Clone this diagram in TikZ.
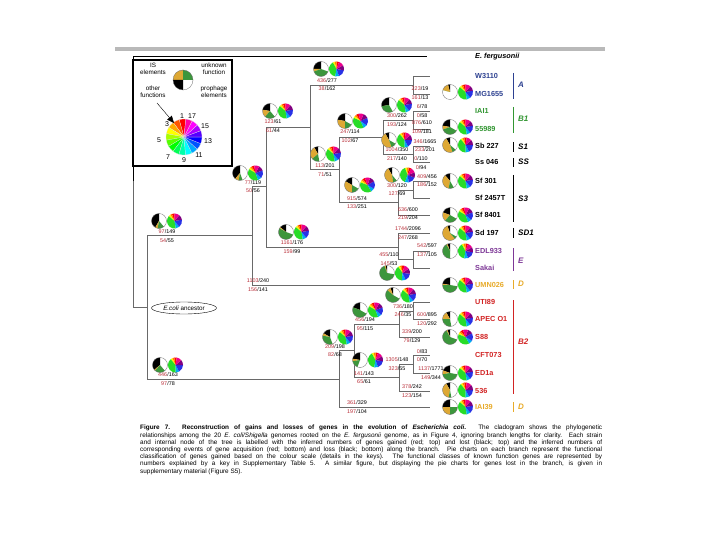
\documentclass[tikz,border=0pt]{standalone}
\usepackage{fontspec}
\setmainfont{Liberation Sans}
\usetikzlibrary{shapes.geometric,arrows.meta}
\definecolor{nred}{RGB}{185,45,55}
\definecolor{treegray}{RGB}{105,105,105}
\definecolor{blueA}{RGB}{45,65,145}
\definecolor{greenB}{RGB}{50,150,50}
\definecolor{purpleE}{RGB}{125,55,150}
\definecolor{goldD}{RGB}{232,170,40}
\definecolor{redB}{RGB}{210,35,35}
\definecolor{isgold}{RGB}{222,168,52}
\definecolor{unkgreen}{RGB}{60,150,60}
\definecolor{cgreen}{RGB}{40,220,40}
\definecolor{cblue}{RGB}{40,50,230}
\newcommand\pr{7.5}
\newcommand\lpie[5]{%
 \begin{scope}[shift={(#1,#2)},yscale=-1]
  \fill[white] (0,0) circle[radius=\pr];
  \pgfmathsetmacro\aA{90+#3}
  \pgfmathsetmacro\aB{\aA+#4}
  \pgfmathsetmacro\aC{\aB+#5}
  \fill[black] (0,0) -- (90:\pr) arc[start angle=90,end angle=\aA,radius=\pr] -- cycle;
  \fill[isgold] (0,0) -- (\aA:\pr) arc[start angle=\aA,end angle=\aB,radius=\pr] -- cycle;
  \fill[unkgreen] (0,0) -- (\aB:\pr) arc[start angle=\aB,end angle=\aC,radius=\pr] -- cycle;
  \draw[black!60,line width=0.3pt] (0,0) circle[radius=\pr];
 \end{scope}}
\newcommand\cpie[3]{%
 \begin{scope}[shift={(#1,#2)},yscale=-1,rotate=#3]
  \foreach \s/\e/\c in {90/110/red,110/125/orange,125/140/yellow,140/280/cgreen,280/310/cyan,310/370/cblue,370/410/violet,410/450/magenta}
   \fill[\c] (0,0) -- (\s:\pr) arc[start angle=\s,end angle=\e,radius=\pr] -- cycle;
 \end{scope}}
\newcommand\pp[6]{\lpie{#1}{#2}{#3}{#4}{#5}\cpie{{#1+15.5}}{#2}{#6}}
\newcommand\lab[7]{%
 \node[nl] (#1t) at (#2,{#3-4}) {\textcolor{nred}{#4}/#5};
 \node[nl] (#1b) at (#2,{#3+4.3}) {\textcolor{nred}{#6}/#7};}
\tikzset{
 nl/.style={font=\fontsize{5.4}{6}\selectfont,inner sep=0pt},
 leaf/.style={anchor=west,inner sep=0pt,font=\fontsize{7.3}{8}\selectfont\bfseries},
 grp/.style={anchor=west,inner sep=0pt,font=\fontsize{8}{9}\selectfont\bfseries\itshape},
 br/.style={treegray,line width=0.75pt},
 bar/.style={line width=0.8pt},
 keyt/.style={font=\fontsize{6.3}{7}\selectfont,inner sep=0pt,align=center},
 whn/.style={font=\fontsize{7}{8}\selectfont,inner sep=0pt}
}
\begin{document}
\begin{tikzpicture}[x=1pt,y=-1pt]
\useasboundingbox (0,0) rectangle (720,540);
\fill[white] (0,0) rectangle (720,540);
% top rule
\fill[gray!55] (115,47) rectangle (605,51);
% tree coordinates
\coordinate (r0) at (133,181);
\coordinate (ef) at (427,56);
\coordinate (ec) at (147,307);
\coordinate (nU) at (252,235);
\coordinate (nL) at (339,379);
\coordinate (nV) at (266,186);
\coordinate (nW) at (310,127);
\coordinate (nR) at (398,247);
\coordinate (nA) at (413,85);
\coordinate (nX) at (339,169);
\coordinate (nY) at (383,137);
\coordinate (nS3) at (398,202);
\coordinate (nB1) at (413,120);
\coordinate (nZ) at (413,154);
\coordinate (nS3a) at (413,190);
\coordinate (nE) at (413,259);
\coordinate (nB2) at (354,350);
\coordinate (nB2a) at (399,324);
\coordinate (nB2b) at (399,377);
\coordinate (nB2a1) at (413,311);
\coordinate (nB2b1) at (413,364);
\coordinate (cW3110) at (430,76);
\coordinate (cMG) at (430,94);
\coordinate (cIAI1) at (430,111);
\coordinate (c55989) at (430,129);
\coordinate (cSb) at (430,146);
\coordinate (cSs) at (430,162);
\coordinate (cSf301) at (430,181);
\coordinate (cSf2457) at (430,198);
\coordinate (cSf8401) at (430,215);
\coordinate (cSd) at (430,233);
\coordinate (cEDL) at (430,251);
\coordinate (cSakai) at (430,268);
\coordinate (cUMN) at (430,285);
\coordinate (cUTI) at (430,302);
\coordinate (cAPEC) at (430,319);
\coordinate (cS88) at (430,337);
\coordinate (cCFT) at (430,355);
\coordinate (cED1a) at (430,373);
\coordinate (c536) at (430,391);
\coordinate (cIAI39) at (430,407);
% branches
\draw[black,line width=0.8pt] (r0) |- (ef);
\draw[br] (r0) |- (ec);
\draw[br] (ec) |- (nU); \draw[br] (ec) |- (nL);
\draw[br] (nU) |- (nV); \draw[br] (nU) |- (cUMN);
\draw[br] (nV) |- (nW); \draw[br] (nV) |- (nR);
\draw[br] (nW) |- (nA); \draw[br] (nW) |- (nX);
\draw[br] (nA) |- (cW3110); \draw[br] (nA) |- (cMG);
\draw[br] (nX) |- (nY); \draw[br] (nX) |- (nS3);
\draw[br] (nY) |- (nB1); \draw[br] (nY) |- (nZ);
\draw[br] (nB1) |- (cIAI1); \draw[br] (nB1) |- (c55989);
\draw[br] (nZ) |- (cSb); \draw[br] (nZ) |- (cSs);
\draw[br] (nS3) |- (nS3a); \draw[br] (nS3) |- (cSf8401);
\draw[br] (nS3a) |- (cSf301); \draw[br] (nS3a) |- (cSf2457);
\draw[br] (nR) |- (cSd); \draw[br] (nR) |- (nE);
\draw[br] (nE) |- (cEDL); \draw[br] (nE) |- (cSakai);
\draw[br] (nL) |- (nB2); \draw[br] (nL) |- (cIAI39);
\draw[br] (nB2) |- (nB2a); \draw[br] (nB2) |- (nB2b);
\draw[br] (nB2a) |- (nB2a1); \draw[br] (nB2a) |- (cS88);
\draw[br] (nB2a1) |- (cUTI); \draw[br] (nB2a1) |- (cAPEC);
\draw[br] (nB2b) |- (nB2b1); \draw[br] (nB2b) |- (c536);
\draw[br] (nB2b1) |- (cCFT); \draw[br] (nB2b1) |- (cED1a);
% key box
\draw[line width=1.1pt,fill=white] (133,60) rectangle (232,166);
\begin{scope}[shift={(183,80)},yscale=-1]
 \fill[isgold] (0,0) -- (90:10) arc[start angle=90,end angle=180,radius=10] -- cycle;
 \fill[black] (0,0) -- (180:10) arc[start angle=180,end angle=270,radius=10] -- cycle;
 \fill[unkgreen] (0,0) -- (0:10) arc[start angle=0,end angle=90,radius=10] -- cycle;
 \draw[black!60,line width=0.3pt] (0,0) circle[radius=10];
\end{scope}
\node[keyt] (kIS) at (153,69) {IS\\elements};
\node[keyt] (kUnk) at (214,69) {unknown\\function};
\node[keyt] (kOth) at (153,92) {other\\functions};
\node[keyt] (kPro) at (214,92) {prophage\\elements};
\begin{scope}[shift={(184,137)},yscale=-1]
 \foreach \k in {1,...,17}{
  \pgfmathsetmacro\st{84.4+(\k-1)*21.176}
  \pgfmathsetmacro\en{\st+21.176}
  \pgfmathsetmacro\hh{(\k-1)*20/360}
  \definecolor{cw}{hsb}{\hh,1,1}
  \fill[cw,draw=white!80!gray,line width=0.2pt] (0,0) -- (\st:18) arc[start angle=\st,end angle=\en,radius=18] -- cycle;
 }
\end{scope}
\coordinate (kArS) at (157,103);
\coordinate (kArE) at (174,123);
\draw[line width=0.4pt,-{Triangle[length=7pt,width=6pt]}] (kArS) -- (kArE);
\node[whn] (w1) at (182,116) {1};
\node[whn] (w17) at (192,116) {17};
\node[whn] (w3) at (167,124) {3};
\node[whn] (w15) at (205,126) {15};
\node[whn] (w5) at (159,140) {5};
\node[whn] (w13) at (208,141) {13};
\node[whn] (w7) at (168,157) {7};
\node[whn] (w9) at (184,160) {9};
\node[whn] (w11) at (199,155) {11};
% ancestor ellipse
\node[ellipse,draw,line width=0.4pt,minimum width=65pt,minimum height=12pt,inner sep=0pt,font=\fontsize{6.3}{7}\selectfont] (anc) at (184,308) {\textit{E.coli} ancestor};
% branch labels
\lab{lEcU}{167}{236}{97}{149}{54}{55}
\lab{lEcL}{168}{379}{446}{163}{97}{78}
\lab{lUV}{253}{186.5}{77}{119}{50}{56}
\lab{lVW}{273}{126}{123}{61}{61}{44}
\lab{lWA}{327}{84.5}{436}{277}{38}{162}
\lab{lWX}{325}{170}{113}{201}{71}{51}
\lab{lXY}{350}{136}{247}{114}{102}{67}
\lab{lYB}{397}{120}{300}{262}{193}{124}
\lab{lYZ}{397}{154}{1004}{350}{217}{140}
\lab{lXS}{357}{202.5}{915}{574}{133}{251}
\lab{lSS}{397}{189.5}{300}{120}{127}{69}
\lab{lVR}{292}{247}{1161}{176}{159}{99}
\lab{lRE}{389}{259}{455}{110}{145}{53}
\lab{lUU}{258}{285}{1103}{240}{156}{141}
\lab{lLB}{335}{350.5}{209}{198}{82}{68}
\lab{lBa}{365}{324}{456}{194}{95}{115}
\lab{lBaa}{403}{310.5}{736}{180}{246}{35}
\lab{lBb}{364}{377.5}{141}{143}{65}{61}
\lab{lBbb}{397}{364}{1305}{148}{323}{55}
\lab{lMG}{420}{93}{223}{19}{161}{13}
\lab{lIAIa}{422}{111}{6}{78}{0}{58}
\lab{lFive}{422}{127}{876}{610}{109}{181}
\lab{lSb}{425}{145.5}{346}{1665}{233}{201}
\lab{lSs}{421}{163}{0}{110}{0}{94}
\lab{lSfa}{427}{180.5}{409}{456}{186}{152}
\lab{lSfc}{408}{213.5}{636}{600}{219}{204}
\lab{lSd}{408}{233}{1744}{2096}{247}{268}
\lab{lEDL}{427}{250}{542}{597}{137}{105}
\lab{lAPEC}{427}{319}{600}{895}{120}{292}
\lab{lSe}{412}{336}{339}{200}{79}{129}
\lab{lCFT}{422}{355.5}{0}{83}{0}{70}
\lab{lEDa}{431}{373}{1137}{1771}{149}{344}
\lab{lFiv}{412}{391}{378}{242}{123}{154}
\lab{lIAIb}{357}{407}{361}{329}{197}{104}
% pies on branches
\pp{159}{221}{150}{20}{50}{0}
\pp{160}{365}{130}{10}{80}{10}
\pp{240}{173}{140}{30}{30}{-10}
\pp{270}{111}{80}{60}{80}{0}
\pp{321}{69}{90}{20}{140}{20}
\pp{318}{154}{30}{100}{60}{0}
\pp{345}{121}{80}{100}{60}{-15}
\pp{389}{105}{100}{0}{110}{0}
\pp{389}{140}{30}{170}{40}{10}
\pp{352}{185}{60}{120}{60}{-20}
\pp{392}{175}{30}{160}{30}{30}
\pp{286}{232}{50}{10}{190}{0}
\pp{387}{273}{10}{10}{240}{15}
\pp{330}{337}{60}{20}{120}{0}
\pp{360}{310}{70}{0}{170}{-10}
\pp{393}{295}{20}{30}{190}{0}
\pp{360}{360}{80}{20}{60}{20}
\pp{450}{92}{15}{60}{0}{0}
\pp{450}{127}{80}{30}{130}{0}
\pp{450}{145}{30}{170}{30}{10}
\pp{450}{181}{40}{130}{40}{0}
\pp{450}{215}{70}{70}{100}{-10}
\pp{450}{233}{20}{200}{20}{0}
\pp{450}{251}{20}{10}{150}{20}
\pp{450}{285}{80}{10}{170}{0}
\pp{450}{319}{30}{60}{100}{0}
\pp{450}{337}{20}{10}{220}{-20}
\pp{450}{373}{70}{30}{160}{0}
\pp{450}{390}{30}{140}{20}{10}
\pp{450}{407}{90}{90}{90}{0}
% leaf names
\node[leaf,font=\fontsize{7.3}{8}\selectfont\bfseries\itshape] (tEF) at (475,57) {E. fergusonii};
\node[leaf,blueA] (tW3110) at (475,76) {W3110};
\node[leaf,blueA] (tMG) at (475,94) {MG1655};
\node[leaf,greenB] (tIAI1) at (475,111) {IAI1};
\node[leaf,greenB] (t55989) at (475,129) {55989};
\node[leaf] (tSb) at (475,146) {Sb 227};
\node[leaf] (tSs) at (475,162) {Ss 046};
\node[leaf] (tSf301) at (475,181) {Sf 301};
\node[leaf] (tSf2457) at (475,198) {Sf 2457T};
\node[leaf] (tSf8401) at (475,215) {Sf 8401};
\node[leaf] (tSd) at (475,233) {Sd 197};
\node[leaf,purpleE] (tEDL) at (475,251) {EDL933};
\node[leaf,purpleE] (tSakai) at (475,268) {Sakai};
\node[leaf,goldD] (tUMN) at (475,285) {UMN026};
\node[leaf,redB] (tUTI) at (475,302) {UTI89};
\node[leaf,redB] (tAPEC) at (475,319) {APEC O1};
\node[leaf,redB] (tS88) at (475,337) {S88};
\node[leaf,redB] (tCFT) at (475,355) {CFT073};
\node[leaf,redB] (tED1a) at (475,373) {ED1a};
\node[leaf,redB] (t536) at (475,391) {536};
\node[leaf,goldD] (tIAI39) at (475,407) {IAI39};
% group bars and labels
\draw[bar,blueA] (513,73) -- (513,99);
\node[grp,blueA] (gA) at (518,85) {A};
\draw[bar,greenB] (513,107) -- (513,133);
\node[grp,greenB] (gB1) at (518,119) {B1};
\draw[bar,black] (513,142) -- (513,152);
\node[grp] (gS1) at (518,147) {S1};
\draw[bar,black] (513,158) -- (513,167);
\node[grp] (gSS) at (518,162) {SS};
\draw[bar,black] (513,175) -- (513,222);
\node[grp] (gS3) at (518,199) {S3};
\draw[bar,black] (513,228) -- (513,238);
\node[grp] (gSD1) at (518,233) {SD1};
\draw[bar,purpleE] (513,248) -- (513,271);
\node[grp,purpleE] (gE) at (518,261) {E};
\draw[bar,goldD] (513,280) -- (513,289);
\node[grp,goldD] (gD1) at (518,284) {D};
\draw[bar,redB] (513,300) -- (513,394);
\node[grp,redB] (gB2) at (518,342) {B2};
\draw[bar,goldD] (513,402) -- (513,412);
\node[grp,goldD] (gD2) at (518,407) {D};
% caption
\node[anchor=north west,inner sep=0pt,text width=462pt,align=justify,font=\fontsize{6.4}{7.2}\selectfont] (cap) at (140,425) {\textbf{Figure 7. Reconstruction of gains and losses of genes in the evolution of \textit{Escherichia coli}.} The cladogram shows the phylogenetic\linebreak relationships among the 20 \textit{E. coli/Shigella} genomes rooted on the \textit{E. fergusonii} genome, as in Figure 4, ignoring branch lengths for clarity. Each strain\linebreak and internal node of the tree is labelled with the inferred numbers of genes gained (red; top) and lost (black; top) and the inferred numbers of\linebreak corresponding events of gene acquisition (red; bottom) and loss (black; bottom) along the branch. Pie charts on each branch represent the functional\linebreak classification of genes gained based on the colour scale (details in the keys). The functional classes of known function genes are represented by\linebreak numbers explained by a key in Supplementary Table 5. A similar figure, but displaying the pie charts for genes lost in the branch, is given in\linebreak supplementary material (Figure S5).};
\end{tikzpicture}
\end{document}
